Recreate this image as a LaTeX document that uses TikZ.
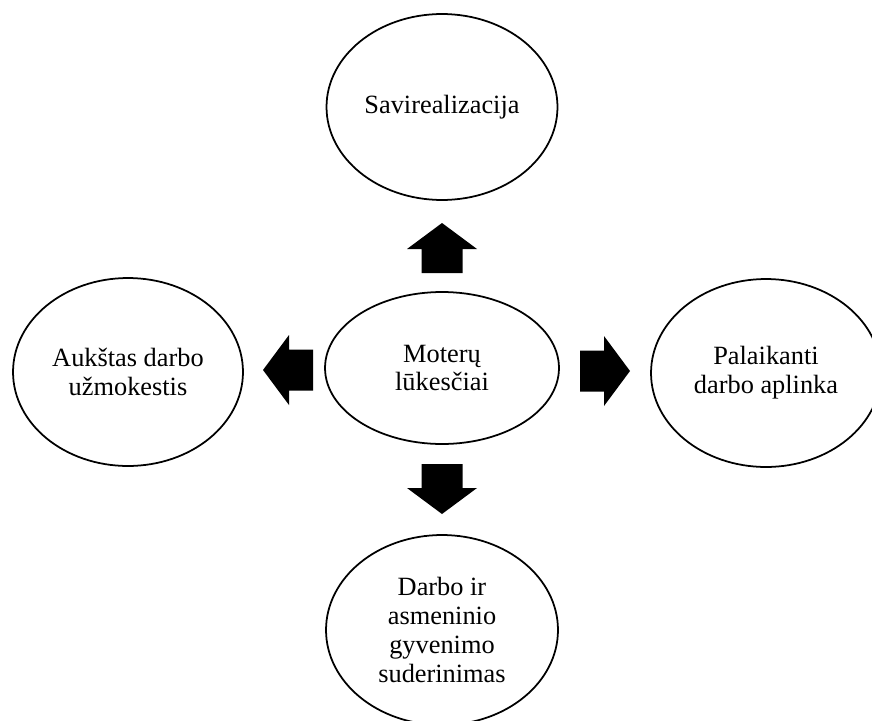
\documentclass[tikz,border=0pt]{standalone}
\usepackage{fontspec}
\setmainfont{Liberation Serif}
\usetikzlibrary{shapes.geometric}

\tikzset{
  goal/.style={draw, ellipse, line width=1pt, inner sep=0pt, align=center,
    font=\fontsize{15}{16.4}\selectfont},
  blockarrow/.pic={
    \fill (0,0) -- (-26,35) -- (-26,20.5) -- (-50,20.5) -- (-50,-20.5)
      -- (-26,-20.5) -- (-26,-35) -- cycle;
  }
}

\begin{document}
\begin{tikzpicture}[x=0.02cm, y=-0.02cm]
\useasboundingbox (0,0) rectangle (872,720);

\node[goal, minimum width=4.68cm, minimum height=3.04cm] (expect) at (442,368) {Moterų\\lūkesčiai};
\node[goal, minimum width=4.62cm, minimum height=3.72cm] (selfreal) at (442,107) {Savirealizacija};
\node[goal, minimum width=4.6cm, minimum height=3.76cm] (salary) at (128,372) {Aukštas darbo\\užmokestis};
\node[goal, minimum width=4.6cm, minimum height=3.76cm] (support) at (766,373) {Palaikanti\\darbo aplinka};
\node[goal, minimum width=4.64cm, minimum height=3.8cm] (balance) at (442,630) {Darbo ir\\asmeninio\\gyvenimo\\suderinimas};

% block arrows
\coordinate (tipU) at (442,223);
\coordinate (tipD) at (442,514);
\coordinate (tipL) at (263,370);
\coordinate (tipR) at (630,371);
\pic[rotate=90] at (tipU) {blockarrow};
\pic[rotate=-90] at (tipD) {blockarrow};
\pic[rotate=180] at (tipL) {blockarrow};
\pic at (tipR) {blockarrow};
\end{tikzpicture}
\end{document}
